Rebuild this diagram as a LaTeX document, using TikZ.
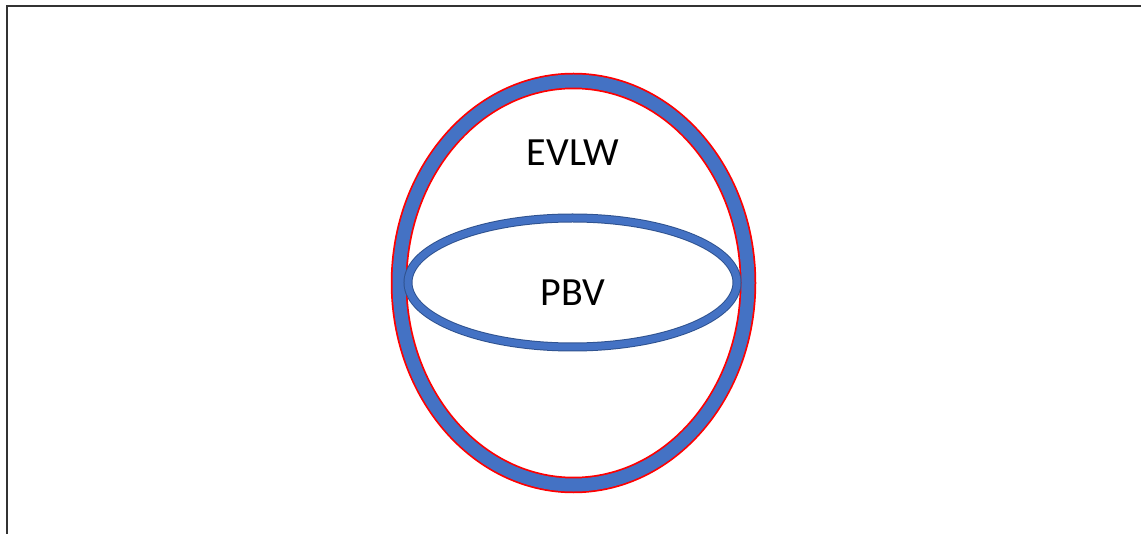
\documentclass[tikz,border=0pt]{standalone}
\usepackage{fontspec}
\setmainfont{Carlito}
\definecolor{ringblue}{HTML}{4472C4}
\definecolor{ringedge}{HTML}{2F528F}
\definecolor{framegray}{HTML}{333333}
\begin{document}
\begin{tikzpicture}[x=1pt,y=-1pt,
  label/.style={font=\fontsize{40}{48}\selectfont, text=black, inner sep=0pt}]
\useasboundingbox (0,0) rectangle (1141,534);
% frame edges
\draw[framegray, line width=2pt] (7,534) -- (7,6) -- (1141,6);
% outer ring: blue band with red rims
\draw[red, line width=16.5pt] (573.5,283) ellipse [x radius=174.5, y radius=202];
\draw[ringblue, line width=13pt] (573.5,283) ellipse [x radius=174.5, y radius=202];
% inner ellipse
\draw[ringedge, line width=9pt] (572.5,282.5) ellipse [x radius=164.5, y radius=64.5];
\draw[ringblue, line width=7pt] (572.5,282.5) ellipse [x radius=164.5, y radius=64.5];
% labels
\node[label] (evlw) at (573,153) {EVLW};
\node[label] (pbv) at (573,293) {PBV};
\end{tikzpicture}
\end{document}
